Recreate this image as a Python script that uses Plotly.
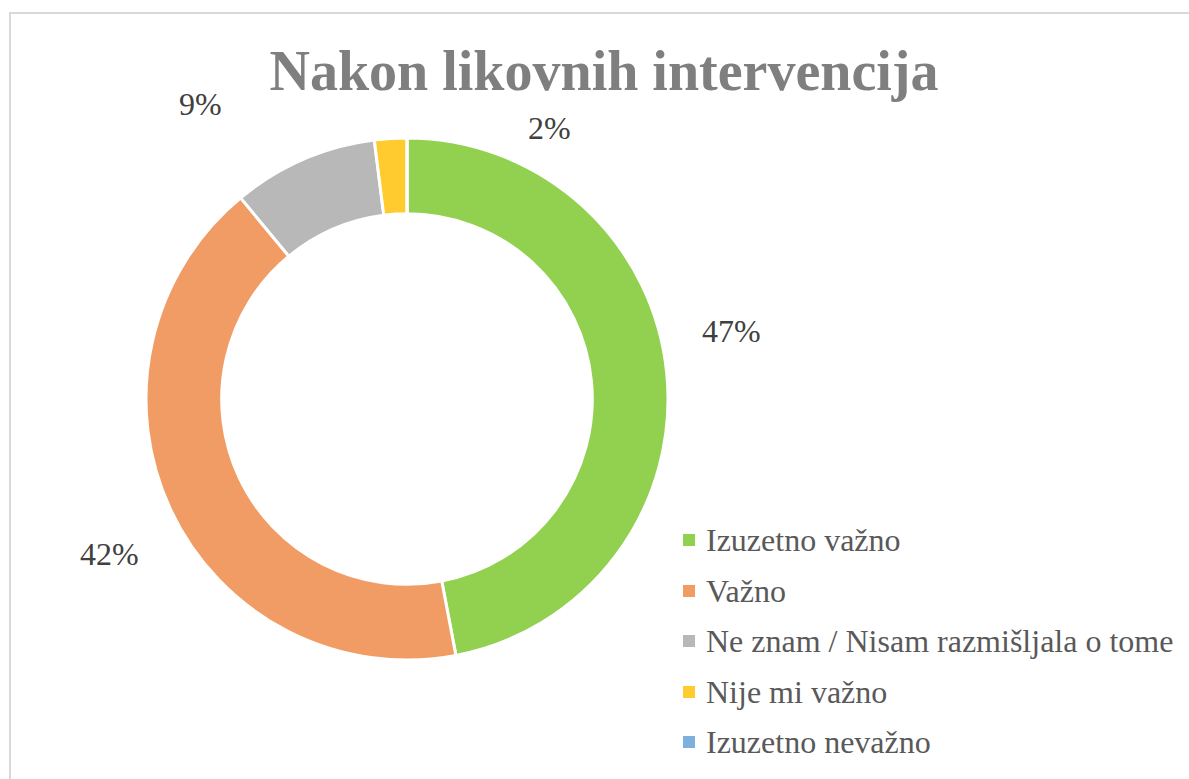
import plotly.graph_objects as go

W, H = 1189, 779

# data
categories = ["Izuzetno važno", "Važno", "Ne znam / Nisam razmišljala o tome",
              "Nije mi važno", "Izuzetno nevažno"]
values = [47, 42, 9, 2, 0]
colors = ["#92D050", "#F19C64", "#B8B8B8", "#FFCB2E", "#7DB0DF"]

# label spots (pixels) where the original chart put the percentages
label_xy = [(731, 331), (110, 554), (201, 104), (549, 128), None]


def px(x):
    return x / W


def py(y):
    return 1 - y / H


cx, cy, r = 407, 399, 261

fig = go.Figure(go.Pie(
    labels=categories,
    values=values,
    hole=0.71,
    sort=False,
    direction="clockwise",
    rotation=0,
    marker=dict(colors=colors, line=dict(color="white", width=3)),
    textinfo="none",
    hoverinfo="label+percent",
    showlegend=False,
    domain=dict(x=[px(cx - r), px(cx + r)], y=[py(cy + r), py(cy - r)]),
))

total = sum(values)
annotations = []
for v, pos in zip(values, label_xy):
    if pos is None or v == 0:
        continue
    annotations.append(dict(
        x=px(pos[0]), y=py(pos[1]), xref="paper", yref="paper",
        text=f"{round(v / total * 100)}%", showarrow=False,
        xanchor="center", yanchor="middle",
        font=dict(family="Liberation Serif", size=32, color="#404040"),
    ))

shapes = [dict(
    type="rect", xref="paper", yref="paper",
    x0=px(10), x1=px(1197), y0=py(790), y1=py(13),
    line=dict(color="#D9D9D9", width=2), fillcolor="rgba(0,0,0,0)",
)]

# legend, drawn by hand to get Excel-like spacing
row_y = [540, 591, 641, 692, 742]
for name, col, y in zip(categories, colors, row_y):
    shapes.append(dict(
        type="rect", xref="paper", yref="paper",
        x0=px(683), x1=px(695), y0=py(y + 6), y1=py(y - 6),
        line=dict(width=0), fillcolor=col,
    ))
    annotations.append(dict(
        x=px(704), y=py(y), xref="paper", yref="paper",
        text=name, showarrow=False, xanchor="left", yanchor="middle",
        font=dict(family="Liberation Serif", size=32, color="#595959"),
    ))

fig.update_layout(
    width=W, height=H,
    margin=dict(l=0, r=0, t=0, b=0),
    paper_bgcolor="white",
    plot_bgcolor="white",
    title=dict(
        text="<b>Nakon likovnih intervencija</b>",
        x=px(604), y=py(70), xanchor="center", yanchor="middle",
        font=dict(family="Liberation Serif", size=56, color="#7F7F7F"),
    ),
    annotations=annotations,
    shapes=shapes,
)

# the page body has an 8px default margin; drop it so the figure fills the window
fig.write_html("out.html", config={"displayModeBar": False},
               post_script="document.body.style.margin='0';")
